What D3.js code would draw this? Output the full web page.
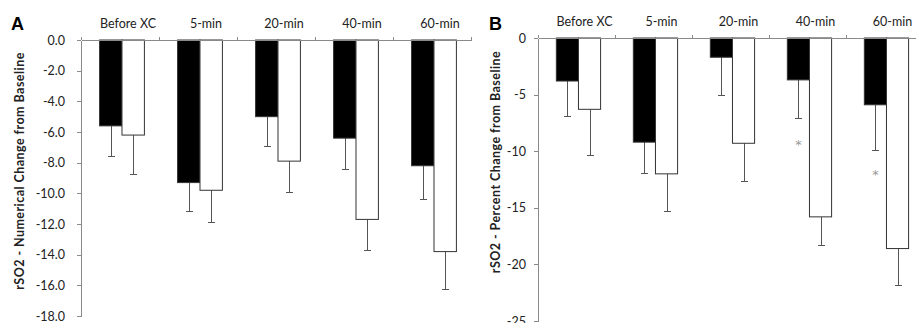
<!DOCTYPE html>
<html>
<head>
<meta charset="utf-8">
<script src="https://cdn.jsdelivr.net/npm/d3@7"></script>
<style>
  html, body { margin: 0; padding: 0; background: #fff; }
  svg { display: block; }
  .axis path, .axis line { stroke: #8a8a8a; shape-rendering: crispEdges; }
  .axis text { font-family: Lato, 'Open Sans', sans-serif; font-size: 12.5px; fill: #222; }
  .cat { font-family: Lato, 'Open Sans', sans-serif; font-size: 12.5px; fill: #222; }
  .ytitle { font-family: Lato, 'Open Sans', sans-serif; font-size: 12.5px; font-weight: bold; fill: #222; letter-spacing: 0.45px; }
  .panel-letter { font-family: 'Liberation Sans', Arial, sans-serif; font-size: 18px; font-weight: bold; fill: #000; }
</style>
</head>
<body>
<script>
'use strict'

const categories = ['Before XC', '5-min', '20-min', '40-min', '60-min']

// panel A: numerical change from baseline
const numBlack = [-5.6, -9.3, -5.0, -6.4, -8.2]
const numBlackErr = [2.0, 1.9, 1.95, 2.05, 2.2]
const numWhite = [-6.2, -9.8, -7.9, -11.7, -13.8]
const numWhiteErr = [2.6, 2.1, 2.05, 2.0, 2.45]
const numTicks = [0, -2, -4, -6, -8, -10, -12, -14, -16, -18]

// panel B: percent change from baseline
const pctBlack = [-3.8, -9.2, -1.7, -3.7, -5.9]
const pctBlackErr = [3.1, 2.8, 3.4, 3.4, 4.05]
const pctWhite = [-6.3, -12.0, -9.3, -15.8, -18.6]
const pctWhiteErr = [4.1, 3.3, 3.4, 2.5, 3.3]
const pctStars = [null, null, null, -9.2, -11.8]
const pctTicks = [0, -5, -10, -15, -20, -25]

const svg = d3.select('body').append('svg')
  .attr('width', 916)
  .attr('height', 323)

function drawPanel (cfg) {
  const g = svg.append('g')

  const x = d3.scaleBand()
    .domain(categories)
    .range([cfg.left, cfg.left + cfg.width])
  const inner = d3.scaleBand()
    .domain(['black', 'white'])
    .range([0, x.bandwidth()])
    .paddingOuter(0.74)
    .align(0.56)
  const y = d3.scaleLinear()
    .domain([cfg.ticks[cfg.ticks.length - 1], 0])
    .range([cfg.bottom, cfg.top])

  const rows = categories.map(function (c, i) {
    return [
      { cat: c, key: 'black', v: cfg.black[i], e: cfg.blackErr[i] },
      { cat: c, key: 'white', v: cfg.white[i], e: cfg.whiteErr[i] }
    ]
  }).flat()

  // error bars, downward only
  const err = g.append('g').attr('class', 'errors')
    .attr('stroke', '#555').attr('stroke-width', 1)
    .attr('shape-rendering', 'crispEdges')
  const cx = function (d) { return Math.round(x(d.cat) + inner(d.key) + inner.bandwidth() / 2) + 0.5 }
  err.selectAll('line.stem').data(rows).enter().append('line')
    .attr('x1', cx).attr('x2', cx)
    .attr('y1', function (d) { return y(d.v) })
    .attr('y2', function (d) { return y(d.v - d.e) })
  err.selectAll('line.cap').data(rows).enter().append('line')
    .attr('x1', function (d) { return cx(d) - 3.5 })
    .attr('x2', function (d) { return cx(d) + 3.5 })
    .attr('y1', function (d) { return y(d.v - d.e) })
    .attr('y2', function (d) { return y(d.v - d.e) })

  g.append('g').attr('class', 'bars')
    .selectAll('rect').data(rows).enter().append('rect')
    .attr('x', function (d) { return x(d.cat) + inner(d.key) })
    .attr('width', inner.bandwidth())
    .attr('y', y(0))
    .attr('height', function (d) { return y(d.v) - y(0) })
    .attr('fill', function (d) { return d.key === 'black' ? '#000' : '#fff' })
    .attr('stroke', '#333')
    .attr('stroke-width', 1)

  if (cfg.stars) {
    g.append('g').selectAll('text')
      .data(cfg.stars.map(function (s, i) { return { cat: categories[i], s: s } })
        .filter(function (d) { return d.s !== null }))
      .enter().append('text')
      .attr('x', function (d) { return x(d.cat) + inner('black') + inner.bandwidth() / 2 })
      .attr('y', function (d) { return y(d.s) + 7 })
      .attr('text-anchor', 'middle')
      .attr('font-family', 'DejaVu Sans, sans-serif')
      .attr('font-size', 13)
      .attr('fill', '#999')
      .text('*')
  }

  // top category axis, ticks at the band edges
  const idx = d3.scaleLinear().domain([0, categories.length]).range(x.range())
  g.append('g')
    .attr('class', 'axis x')
    .attr('transform', 'translate(0,' + y(0) + ')')
    .call(d3.axisTop(idx).tickValues(d3.range(categories.length + 1))
      .tickSize(3).tickSizeOuter(0).tickFormat(''))

  g.append('g').selectAll('text').data(categories).enter().append('text')
    .attr('class', 'cat')
    .attr('x', function (d) { return x(d) + x.bandwidth() / 2 + 8 })
    .attr('y', cfg.top - 12)
    .attr('text-anchor', 'middle')
    .text(function (d) { return d })

  g.append('g')
    .attr('class', 'axis y')
    .attr('transform', 'translate(' + cfg.left + ',0)')
    .call(d3.axisLeft(y).tickValues(cfg.ticks).tickSize(4).tickSizeOuter(0)
      .tickPadding(cfg.pad).tickFormat(cfg.fmt))

  g.append('text')
    .attr('class', 'ytitle')
    .attr('text-anchor', 'middle')
    .attr('transform', 'translate(' + cfg.titleX + ',' + cfg.titleY + ') rotate(-90)')
    .text(cfg.title)

  g.append('text')
    .attr('class', 'panel-letter')
    .attr('x', cfg.letterX)
    .attr('y', 30)
    .text(cfg.letter)
}

drawPanel({
  letter: 'A', letterX: 11,
  left: 81, width: 390, top: 40, bottom: 316,
  black: numBlack, blackErr: numBlackErr,
  white: numWhite, whiteErr: numWhiteErr,
  ticks: numTicks, pad: 12,
  fmt: function (d) { return d.toFixed(1) },
  title: 'rSO2 - Numerical Change from Baseline', titleX: 24, titleY: 171
})

drawPanel({
  letter: 'B', letterX: 489,
  left: 538, width: 385, top: 38, bottom: 321,
  black: pctBlack, blackErr: pctBlackErr,
  white: pctWhite, whiteErr: pctWhiteErr,
  stars: pctStars,
  ticks: pctTicks, pad: 8,
  fmt: function (d) { return String(d) },
  title: 'rSO2 - Percent Change from Baseline', titleX: 500, titleY: 162
})
</script>
</body>
</html>
